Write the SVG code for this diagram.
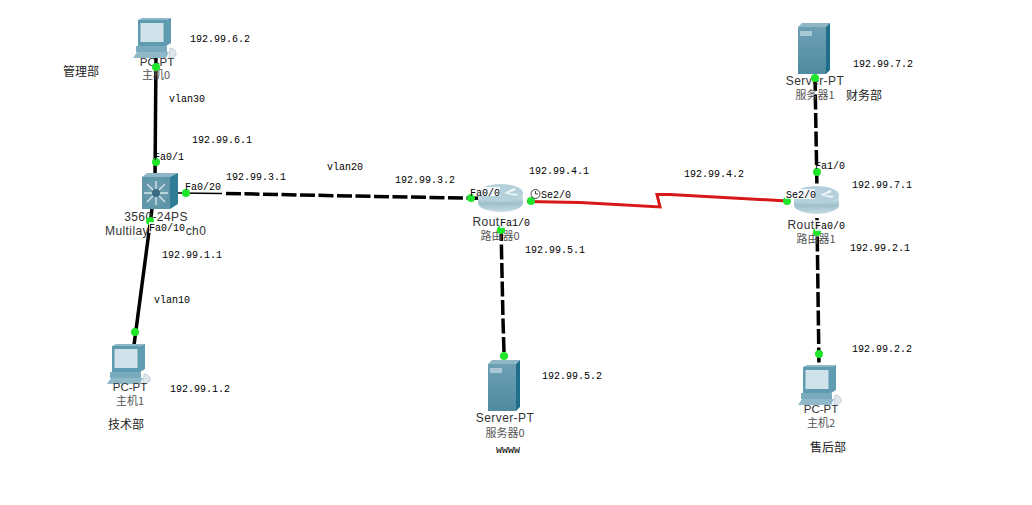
<svg xmlns="http://www.w3.org/2000/svg" width="1032" height="505" viewBox="0 0 1032 505">
<style>
.ip{font:10px "Liberation Mono","DejaVu Sans Mono",monospace;fill:#000}
.nm{font:12px "Liberation Sans",Arial,"Noto Sans CJK SC",sans-serif;fill:#333;text-anchor:middle;letter-spacing:.4px}
.nn{font:11.500px "Liberation Sans",Arial,sans-serif;fill:#333;text-anchor:middle}
.cn{font:11px "Noto Sans CJK SC",sans-serif;fill:#555;text-anchor:middle}
.dp{font:12px "Noto Sans CJK SC",sans-serif;fill:#222}
.pt{font:10px "Liberation Mono","DejaVu Sans Mono",monospace;fill:#000}
.solid{fill:none;stroke:#000;stroke-width:3.500}
.dash{fill:none;stroke:#000;stroke-width:3.500;stroke-dasharray:15 3.500}
.red{fill:none;stroke:#d81818;stroke-width:3}
.dot{fill:#1fe62a}
.bg{fill:#fff;fill-opacity:.85}
</style>
<defs>
<linearGradient id="rt" x1="0" y1="0" x2="0" y2="1"><stop offset="0" stop-color="#e4eff3"/><stop offset=".55" stop-color="#9dbfcc"/><stop offset="1" stop-color="#c9dce3"/></linearGradient>
<linearGradient id="sv" x1="0" y1="0" x2="0" y2="1"><stop offset="0" stop-color="#6ea0b4"/><stop offset="1" stop-color="#4f8a9f"/></linearGradient>
<radialGradient id="sw"><stop offset="0" stop-color="#3d6d85"/><stop offset=".35" stop-color="#6f9eb1"/><stop offset="1" stop-color="#5f95a8"/></radialGradient>
<g id="pc">
<path d="M5 1 L33 1 L38 -1 L38 24 L33 27 L5 27 Z" fill="#5f9cb2"/>
<path d="M5 1 L9 -1 L38 -1 L33 1 Z" fill="#8ab6c6"/>
<rect x="7.500" y="4" width="23" height="19" fill="#cfe2e9"/>
<rect x="3" y="27" width="31" height="6" fill="#7aaabd"/>
<path d="M4 33 L36 33 L33 39 L0 39 Z" fill="#8fb9c8"/>
<path d="M37 29 Q44 30 43 36 L39 39 L36 39 Z" fill="#dfe7ea" stroke="#9ab" stroke-width=".5"/>
</g>
<g id="server">
<path d="M0 4 L4 0 L32 0 L28 4 Z" fill="#8eb6c5"/>
<rect x="0" y="4" width="28" height="47" fill="url(#sv)"/>
<path d="M28 4 L32 0 L32 47 L28 51 Z" fill="#1f6f8a"/>
<rect x="2" y="8" width="12" height="5" fill="#a8c8d4"/>
<line x1="0" y1="27" x2="28" y2="27" stroke="#5b93a6" stroke-width=".7"/>
</g>
<g id="router">
<path d="M0 9 L0 19 A22.500 9 0 0 0 45 19 L45 9 Z" fill="url(#rt)"/>
<ellipse cx="22.500" cy="9" rx="22.500" ry="9" fill="#b3d0db"/>
<path d="M26 9 L36 4 L38 6 L30 9 L40 10 L38 12 Z" fill="#eef5f8"/>
</g>
</defs>
<rect width="1032" height="505" fill="#fff"/>
<g id="connectors">
<path class="solid" d="M156 54 L155 178"/>
<path class="solid" d="M152 209 L134 345"/>
<path d="M178 193 L222 193.500" stroke="#000" stroke-width="1.500" fill="none"/>
<path class="dash" d="M226 193.500 L350 196 L491 198.500"/>
<path class="dash" d="M501 226 L503 320 L504 352"/>
<path class="red" d="M527 201.500 L580 202.500 L660 207 L657 194.500 L670 194.500 L787 201"/>
<path class="dash" d="M815 76 L817 190"/>
<path class="dash" d="M817 218 L819 368"/>
</g>
<g id="pc0"><use href="#pc" x="133" y="19"/><text class="nn" x="157" y="66">PC-PT</text><text class="cn" x="156" y="79">主机0</text></g>
<g id="switch0">
<path d="M142 177 L147 173 L178 173 L170 177 Z" fill="#8fb6c5"/>
<rect x="142" y="177" width="28" height="32" fill="url(#sw)"/>
<path d="M170 177 L178 173 L178 204 L170 209 Z" fill="#2e7c96"/>
<path d="M156 181 V205 M144 193 H168 M147 184 L165 202 M165 184 L147 202" stroke="#d5e6ec" stroke-width="1.300"/>
<circle cx="156" cy="193" r="4" fill="#3c6a82"/>
<text class="nm" x="156" y="221">3560-24PS</text><text class="nm" x="127" y="235">Multilay</text><text class="nm" x="196" y="235">ch0</text></g>
<g id="pc1"><use href="#pc" x="107" y="345"/><text class="nn" x="130" y="391">PC-PT</text><text class="cn" x="130" y="405">主机1</text></g>
<g id="router0"><use href="#router" x="478" y="184"/><text class="nm" x="486" y="226">Rout</text><text class="cn" x="500" y="240">路由器0</text></g>
<g id="router1"><use href="#router" x="794" y="186"/><text class="nm" x="801" y="229">Rout</text><text class="cn" x="816" y="243">路由器1</text></g>
<g id="server0"><use href="#server" x="488" y="360"/><text class="nm" x="505" y="422">Server-PT</text><text class="cn" x="505" y="437">服务器0</text></g>
<g id="server1"><use href="#server" x="798" y="23"/><text class="nm" x="815" y="85">Server-PT</text><text class="cn" x="815" y="99">服务器1</text></g>
<g id="pc2"><use href="#pc" x="798" y="366"/><text class="nn" x="821" y="413">PC-PT</text><text class="cn" x="821" y="427">主机2</text></g>
<g id="ports">
<circle class="dot" cx="156" cy="67" r="4"/><circle class="dot" cx="156" cy="162" r="4"/><circle class="dot" cx="186" cy="193" r="4"/><circle class="dot" cx="150" cy="221" r="4"/><circle class="dot" cx="135" cy="332" r="4"/><circle class="dot" cx="471" cy="198" r="4"/><circle class="dot" cx="531" cy="201" r="4"/><circle class="dot" cx="501" cy="230" r="4"/><circle class="dot" cx="504" cy="356" r="4"/><circle class="dot" cx="787" cy="201" r="4"/><circle class="dot" cx="815" cy="78" r="4"/><circle class="dot" cx="817" cy="172" r="4"/><circle class="dot" cx="817" cy="232" r="4"/><circle class="dot" cx="819" cy="354" r="4"/>
<circle cx="535.500" cy="194" r="4.500" fill="none" stroke="#444"/><path d="M535.500 191 V194 H538" fill="none" stroke="#444"/>
</g>
<g id="labels">
<rect class="bg" x="473" y="187" width="27" height="9"/><rect class="bg" x="500" y="217" width="30" height="11"/><rect class="bg" x="785" y="189" width="30" height="10"/><rect class="bg" x="815" y="220" width="30" height="11"/><rect class="bg" x="149" y="222" width="36" height="11"/>
<text class="pt" x="154" y="160">Fa0/1</text><text class="pt" x="185" y="190">Fa0/20</text><text class="pt" x="149" y="231">Fa0/10</text>
<text class="pt" x="470" y="196">Fa0/0</text><text class="pt" x="541" y="198">Se2/0</text><text class="pt" x="500" y="226">Fa1/0</text>
<text class="pt" x="786" y="198">Se2/0</text><text class="pt" x="815" y="169">Fa1/0</text><text class="pt" x="815" y="229">Fa0/0</text>
<text class="ip" x="190" y="42">192.99.6.2</text><text class="ip" x="192" y="143">192.99.6.1</text><text class="ip" x="226" y="180">192.99.3.1</text>
<text class="ip" x="162" y="258">192.99.1.1</text><text class="ip" x="170" y="392">192.99.1.2</text><text class="ip" x="395" y="183">192.99.3.2</text>
<text class="ip" x="529" y="174">192.99.4.1</text><text class="ip" x="684" y="177">192.99.4.2</text><text class="ip" x="525" y="253">192.99.5.1</text>
<text class="ip" x="542" y="379">192.99.5.2</text><text class="ip" x="853" y="67">192.99.7.2</text><text class="ip" x="852" y="188">192.99.7.1</text>
<text class="ip" x="850" y="251">192.99.2.1</text><text class="ip" x="852" y="352">192.99.2.2</text>
<text class="ip" x="169" y="102">vlan30</text><text class="ip" x="327" y="170">vlan20</text><text class="ip" x="154" y="303">vlan10</text><text class="ip" x="496" y="453">wwww</text>
<text class="dp" x="63" y="76">管理部</text><text class="dp" x="846" y="100">财务部</text><text class="dp" x="108" y="429">技术部</text><text class="dp" x="810" y="452">售后部</text>
</g>
</svg>
